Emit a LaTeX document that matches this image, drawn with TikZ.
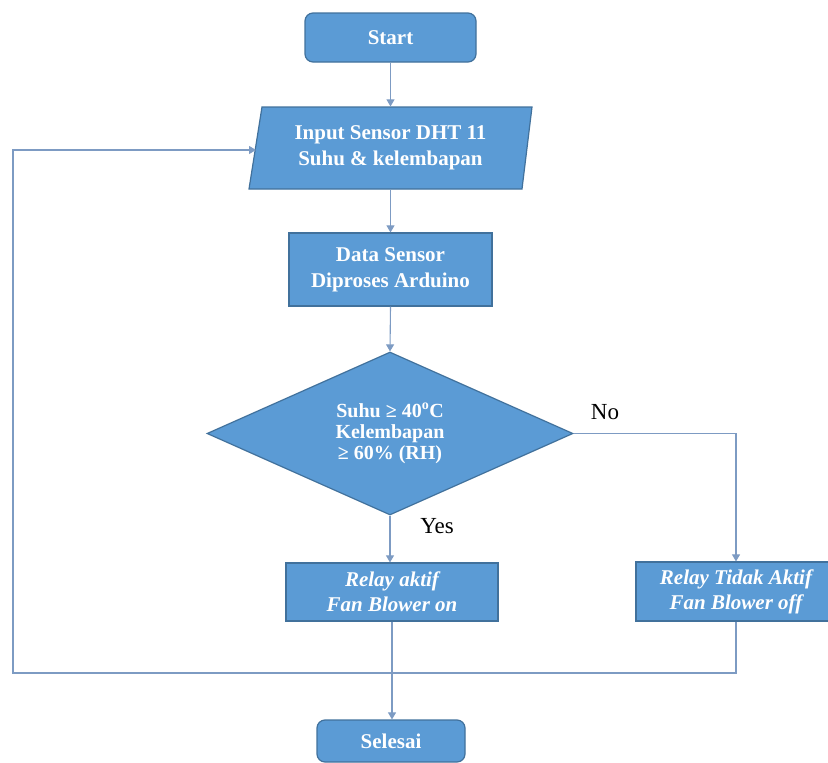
\documentclass[tikz,border=0pt]{standalone}
\usepackage{fontspec}
\setmainfont{Liberation Serif}
\usetikzlibrary{shapes.geometric,arrows.meta}
\definecolor{fbl}{HTML}{5B9BD5}
\definecolor{bdr}{HTML}{41719C}
\definecolor{lc}{RGB}{125,155,195}
\tikzset{
  boxbase/.style={fill=fbl, draw=bdr, line width=1.2pt, text=white, align=center, inner sep=0pt},
  term/.style={boxbase, rounded corners=8pt, font=\bfseries\fontsize{21}{25}\selectfont},
  proc/.style={boxbase, font=\bfseries\fontsize{21}{26}\selectfont},
  procit/.style={boxbase, font=\bfseries\itshape\fontsize{21}{25}\selectfont},
  dec/.style={boxbase, diamond, aspect=2.25, font=\bfseries\fontsize{20}{21}\selectfont},
  conn/.style={draw=lc, line width=1.1pt},
  arr/.style={conn, -{Triangle[width=8pt,length=7pt]}},
  lbl/.style={font=\fontsize{23}{26}\selectfont, text=black}
}
\begin{document}
\begin{tikzpicture}[x=1pt,y=-1pt]
\useasboundingbox (0,0) rectangle (828,763);
% nodes
\node[term, minimum width=171, minimum height=49] (start) at (390.5,37.5) {Start};
\draw[boxbase] (262,107) -- (532,107) -- (522,189) -- (249,189) -- cycle;
\node[proc, draw=none, fill=none, minimum width=250, minimum height=82] (in) at (390.5,148) {Input Sensor DHT 11\\Suhu \& kelembapan};
\coordinate (inL) at (256,150);
\node[proc, minimum width=203, minimum height=73] (data) at (390.5,269.5) {Data Sensor\\Diproses Arduino};
\node[dec, minimum width=366, minimum height=163] (dec) at (390,433.5) {Suhu ≥ 40\textsuperscript{o}C\\Kelembapan\\≥ 60\% (RH)};
\node[procit, minimum width=212, minimum height=58] (r1) at (392,592) {Relay aktif\\Fan Blower on};
\node[procit, minimum width=200, minimum height=59] (r2) at (736,591.5) {Relay Tidak Aktif\\Fan Blower off};
\node[term, minimum width=148, minimum height=42] (end) at (391,741) {Selesai};
\node[lbl] (no) at (605,412) {No};
\node[lbl] (yes) at (437,526) {Yes};
% connectors
\draw[arr] (start.south) -- (start.south |- in.north);
\draw[arr] (in.south) -- (in.south |- data.north);
\draw[arr] (data.south) -- (dec.north);
\draw[arr] (dec.south) -- (dec.south |- r1.north);
\draw[arr] (dec.east) -| (r2.north);
\draw[arr] (r2.south) |- (13,673) |- (inL);
\draw[arr] (r1.south) -- (r1.south |- end.north);
\end{tikzpicture}
\end{document}
